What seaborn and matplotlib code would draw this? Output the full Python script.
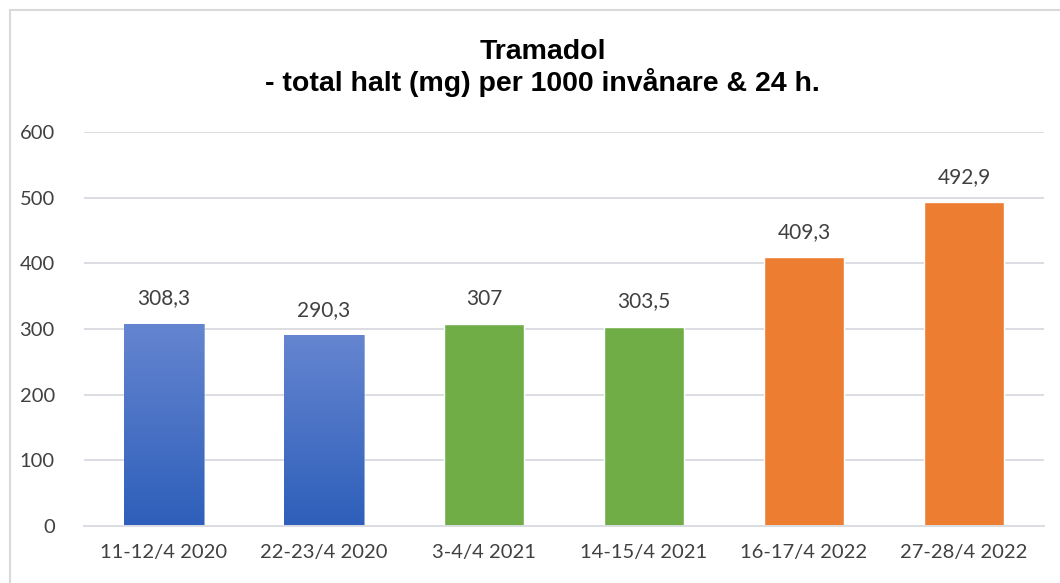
import matplotlib.pyplot as plt
import matplotlib.patches as mpatches
import matplotlib.colors as mcolors
import numpy as np
import pandas as pd
import seaborn as sns

dates = ['11-12/4 2020', '22-23/4 2020', '3-4/4 2021', '14-15/4 2021', '16-17/4 2022', '27-28/4 2022']
values = [308.3, 290.3, 307, 303.5, 409.3, 492.9]
labels = ['308,3', '290,3', '307', '303,5', '409,3', '492,9']
bar_colors = ['#4472C4', '#4472C4', '#70AD47', '#70AD47', '#ED7D31', '#ED7D31']

df = pd.DataFrame({'datum': dates, 'halt': values})

sns.set_style('white')
plt.rcParams['font.family'] = ['Lato', 'DejaVu Sans']

fig = plt.figure(figsize=(10.6, 5.83), dpi=100)
ax = fig.add_axes([84 / 1060, 0.0978, 960 / 1060, 0.6758])

sns.barplot(data=df, x='datum', y='halt', hue='datum', palette=bar_colors,
            legend=False, width=0.5, saturation=1, ax=ax)

# blå gradient på 2020-staplarna
grad = mcolors.LinearSegmentedColormap.from_list('bl', ['#2E5FBA', '#6585D0'])
for p in ax.patches[:2]:
    x0, y0 = p.get_x(), p.get_y()
    w, h = p.get_width(), p.get_height()
    im = ax.imshow(np.linspace(0, 1, 256).reshape(-1, 1), cmap=grad, origin='lower',
                   extent=[x0, x0 + w, y0, y0 + h], aspect='auto', zorder=p.get_zorder() + 0.1)
    im.set_clip_path(p)
    p.set_edgecolor('#8FA9DC')
    p.set_linewidth(0.6)

ax.set_xlim(-0.5, len(dates) - 0.5)
ax.set_ylim(0, 600)
ax.set_yticks(range(0, 601, 100))
ax.yaxis.grid(True, color='#DADDE2', linewidth=1.4)
ax.set_axisbelow(True)
for s in ['top', 'right', 'left']:
    ax.spines[s].set_visible(False)
ax.spines['bottom'].set_color('#DADDE2')
ax.spines['bottom'].set_linewidth(1.4)
ax.tick_params(axis='both', length=0, labelsize=14.5, labelcolor='#404040', pad=13)
ax.tick_params(axis='y', pad=21)
ax.set_xlabel('')
ax.set_ylabel('')

for i, v in enumerate(values):
    ax.annotate(labels[i], (i, v), xytext=(0, 11), textcoords='offset points',
                ha='center', va='bottom', fontsize=15, color='#404040')

fig.text(0.512, 0.883, 'Tramadol\n- total halt (mg) per 1000 invånare & 24 h.',
         ha='center', va='center', fontsize=20.5, fontweight='bold',
         family=['Liberation Sans Narrow', 'Liberation Sans', 'DejaVu Sans'],
         linespacing=1.15, color='black')

fig.patches.append(mpatches.Rectangle((10 / 1060, -0.01), 1.0, 1 - 10 / 583 + 0.01,
                                      transform=fig.transFigure, fill=False,
                                      edgecolor='#D9D9D9', linewidth=1.5))

fig.savefig('out.png', dpi=100)
